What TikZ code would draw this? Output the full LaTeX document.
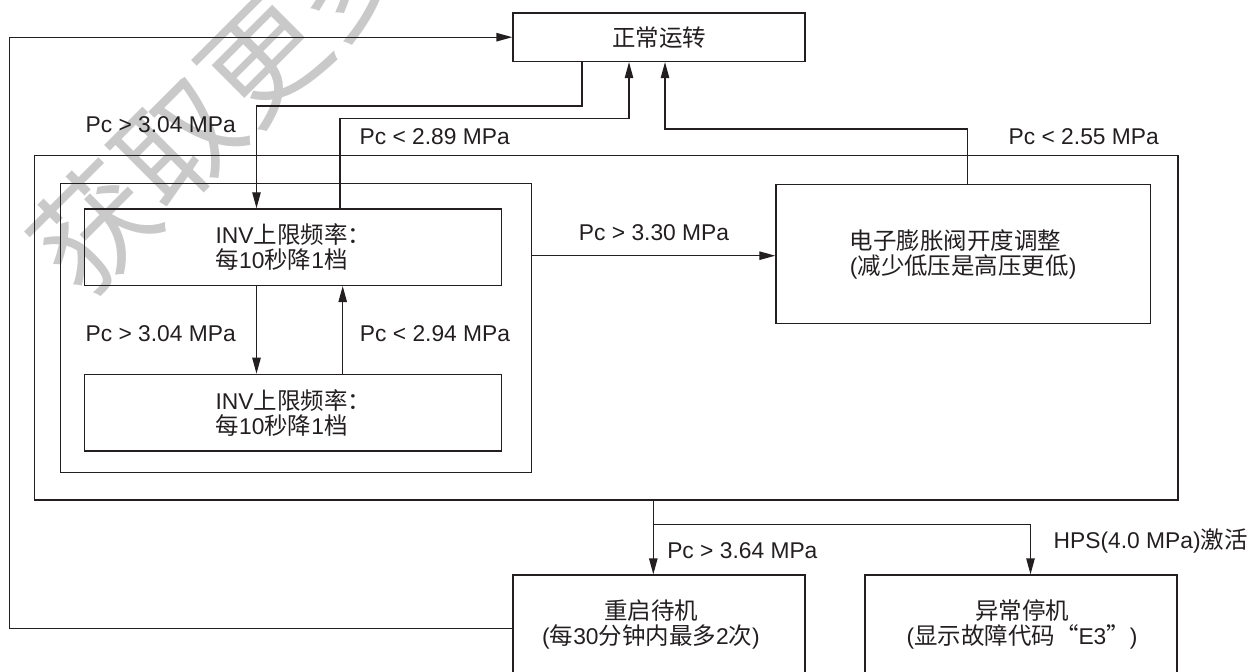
\documentclass[tikz,border=0pt]{standalone}
\usepackage{fontspec}
\setmainfont{Liberation Sans}
\newfontfamily\cjk[Scale=1.03]{Noto Sans CJK SC}
\usetikzlibrary{arrows.meta,calc}
\definecolor{ink}{HTML}{231F20}
\definecolor{wmgray}{HTML}{C9C9C9}
\begin{document}
\begin{tikzpicture}[x=0.5pt,y=-0.5pt, line width=0.65pt, color=ink,
  font=\fontsize{11.4}{12.5}\selectfont,
  box/.style={draw=ink, inner sep=0pt, align=center},
  txt/.style={inner sep=0pt, align=center, text=ink},
  lbl/.style={inner sep=0pt, anchor=base west, text=ink},
  arr/.style={-{Triangle[length=8pt,width=4.2pt]}},
]
\useasboundingbox (0,0) rectangle (1256,672);
\clip (0,0) rectangle (1256,672);

% watermark
\node[rotate=45, text=wmgray, inner sep=0pt, font=\cjk\fontsize{58}{60}\selectfont] (wm) at (220,100) {获取更多};

% boxes
\node[box, minimum width=146pt, minimum height=24.25pt] (top) at (659,37.2) {{\cjk 正常运转}};
\node[box, minimum width=571.8pt, minimum height=172.35pt] (outer) at (606.2,327.65) {};
\node[box, minimum width=235.4pt, minimum height=144.7pt] (inner) at (296.1,328) {};
\node[box, align=left, minimum width=208.5pt, minimum height=38.25pt] (inv1) at (293.3,247.2)
  {INV{\cjk 上限频率：}\\{\cjk 每}10{\cjk 秒降}1{\cjk 档}};
\node[box, align=left, minimum width=208.5pt, minimum height=38.35pt] (inv2) at (293.3,412.7)
  {INV{\cjk 上限频率：}\\{\cjk 每}10{\cjk 秒降}1{\cjk 档}};
\node[box, align=left, minimum width=187.25pt, minimum height=69.5pt] (eev) at (963.2,254)
  {{\cjk 电子膨胀阀开度调整}\\({\cjk 减少低压是高压更低})};
\node[box, minimum width=146pt, minimum height=62.5pt] (restart) at (659,637.5) {};
\node[box, minimum width=156pt, minimum height=62.5pt] (stop) at (1021,637.5) {};
\node[txt] (restartTxt) at (651,624) {{\cjk 重启待机}\\({\cjk 每}30{\cjk 分钟内最多}2{\cjk 次})};
\node[txt] (stopTxt) at (1022,624) {{\cjk 异常停机}\\({\cjk 显示故障代码“}E3{\cjk ”})};

% helper coordinates
\coordinate (lc) at (9.6,628.3);
\coordinate (j1) at (582,106);
\coordinate (j2) at (256.5,106);
\coordinate (j3) at (340,118.5);
\coordinate (j4) at (629,118.5);
\coordinate (j5) at (967.6,129);
\coordinate (j6) at (665,129);
\coordinate (j7) at (342.7,330);
\coordinate (j8) at (0,255.7);
\coordinate (j9) at (653.3,524.3);
\coordinate (j10) at (1030.5,524.3);

% connectors
\draw[arr] (restart.west |- lc) -- (lc) |- (top.west);
\draw[arr] (top.south -| j1) -- (j1) -- (j2) -- (j2 |- inv1.north);
\draw[arr] (inv1.north -| j3) -- (j3) -- (j4) -- (j4 |- top.south);
\draw[arr] (eev.north -| j5) -- (j5) -- (j6) -- (j6 |- top.south);
\draw[arr] (inv1.south -| j2) -- (inv2.north -| j2);
\draw[arr] (inv2.north -| j7) -- (inv1.south -| j7);
\draw[arr] (inner.east |- j8) -- (eev.west |- j8);
\draw[arr] (outer.south -| j9) -- (restart.north -| j9);
\draw[arr] (j9) -- (j10) -- (stop.north -| j10);

% labels
\node[lbl] (l1) at (85,132.5) {Pc > 3.04 MPa};
\node[lbl] (l2) at (359,144.7) {Pc < 2.89 MPa};
\node[lbl] (l3) at (1008,144.5) {Pc < 2.55 MPa};
\node[lbl] (l4) at (578.3,241) {Pc > 3.30 MPa};
\node[lbl] (l5) at (85,341.3) {Pc > 3.04 MPa};
\node[lbl] (l6) at (359.3,341.3) {Pc < 2.94 MPa};
\node[lbl] (l7) at (666.6,559) {Pc > 3.64 MPa};
\node[lbl] (l8) at (1053,548) {HPS(4.0 MPa){\cjk 激活}};
\end{tikzpicture}
\end{document}
